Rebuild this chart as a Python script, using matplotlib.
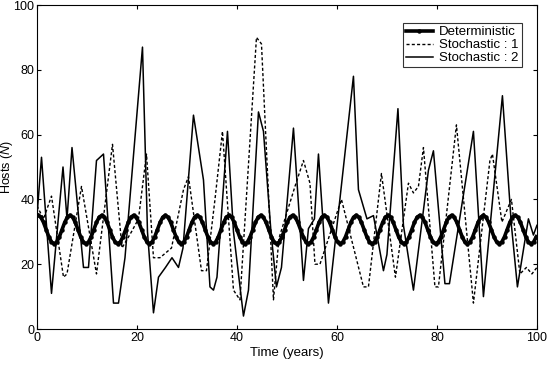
import numpy as np
import matplotlib.pyplot as plt

plt.rcParams['font.family'] = ['Liberation Sans', 'DejaVu Sans']
plt.rcParams['mathtext.fontset'] = 'custom'
plt.rcParams['mathtext.it'] = 'Liberation Sans:italic'

# deterministic model, sampled every 0.53 years starting at 0.24
det_years = np.arange(0.24, 100, 0.53)
det_hosts = [
    35.1, 34.5, 32.9, 30.7, 28.5, 26.9, 26.3, 26.9, 28.5, 30.7, 32.9, 34.5,
    35.1, 34.5, 32.9, 30.7, 28.5, 26.9, 26.3, 26.9, 28.5, 30.7, 32.9, 34.5,
    35.1, 34.5, 32.9, 30.7, 28.5, 26.9, 26.3, 26.9, 28.5, 30.7, 32.9, 34.5,
    35.1, 34.5, 32.9, 30.7, 28.5, 26.9, 26.3, 26.9, 28.5, 30.7, 32.9, 34.5,
    35.1, 34.5, 32.9, 30.7, 28.5, 26.9, 26.3, 26.9, 28.5, 30.7, 32.9, 34.5,
    35.1, 34.5, 32.9, 30.7, 28.5, 26.9, 26.3, 26.9, 28.5, 30.7, 32.9, 34.5,
    35.1, 34.5, 32.9, 30.7, 28.5, 26.9, 26.3, 26.9, 28.5, 30.7, 32.9, 34.5,
    35.1, 34.5, 32.9, 30.7, 28.5, 26.9, 26.3, 26.9, 28.5, 30.7, 32.9, 34.5,
    35.1, 34.5, 32.9, 30.7, 28.5, 26.9, 26.3, 26.9, 28.5, 30.7, 32.9, 34.5,
    35.1, 34.5, 32.9, 30.7, 28.5, 26.9, 26.3, 26.9, 28.5, 30.7, 32.9, 34.5,
    35.1, 34.5, 32.9, 30.7, 28.5, 26.9, 26.3, 26.9, 28.5, 30.7, 32.9, 34.5,
    35.1, 34.5, 32.9, 30.7, 28.5, 26.9, 26.3, 26.9, 28.5, 30.7, 32.9, 34.5,
    35.1, 34.5, 32.9, 30.7, 28.5, 26.9, 26.3, 26.9, 28.5, 30.7, 32.9, 34.5,
    35.1, 34.5, 32.9, 30.7, 28.5, 26.9, 26.3, 26.9, 28.5, 30.7, 32.9, 34.5,
    35.1, 34.5, 32.9, 30.7, 28.5, 26.9, 26.3, 26.9, 28.5, 30.7, 32.9, 34.5,
    35.1, 34.5, 32.9, 30.7, 28.5, 26.9, 26.3, 26.9, 28.5,
]

# stochastic run 1 (dashed)
s1_years = [0, 1.3, 2.9, 5.3, 6.0, 8.9, 11.9, 15.1, 17.0, 18.9, 20.3, 21.9,
            23.3, 24.6, 26.9, 29.3, 30.3, 32.9, 33.9, 35.6, 37.1, 39.3, 40.6,
            43.9, 44.9, 47.3, 48.4, 51.6, 53.3, 54.6, 55.6, 56.6, 60.9, 65.3,
            66.3, 68.9, 71.7, 74.3, 75.3, 76.3, 77.3, 79.6, 80.3, 83.9, 87.3,
            90.6, 91.1, 93.0, 94.9, 96.6, 97.9, 99.0, 100]
s1_hosts = [38, 34, 41, 16, 17, 44, 17, 57, 25, 30, 34, 54,
            22, 22, 25, 43, 47, 18, 18, 40, 61, 12, 9,
            90, 88, 9, 28, 44, 52, 45, 20, 20, 40, 13,
            13, 48, 16, 45, 42, 44, 56, 13, 13, 63, 8,
            52, 54, 33, 40, 17, 19, 17, 19]

# stochastic run 2 (solid)
s2_years = [0, 0.9, 2.9, 5.2, 6.0, 7.0, 9.3, 10.3, 11.9, 13.3, 15.3, 16.3,
            17.6, 21.1, 22.1, 23.3, 24.3, 25.7, 27.0, 28.3, 29.2, 31.3, 33.3,
            34.6, 35.3, 36.0, 38.1, 39.3, 41.3, 42.3, 44.3, 45.3, 46.8, 47.9,
            48.9, 51.3, 53.3, 54.3, 55.5, 56.3, 58.3, 63.3, 64.3, 66.0, 67.3,
            69.3, 70.0, 72.2, 73.3, 75.3, 78.3, 79.3, 81.6, 82.5, 87.3, 89.3,
            93.1, 94.9, 96.1, 98.3, 99.3, 100]
s2_hosts = [35, 53, 11, 50, 34, 56, 19, 19, 52, 54, 8, 8,
            22, 87, 30, 5, 16, 19, 22, 19, 25, 66, 46,
            13, 12, 16, 61, 30, 4, 12, 67, 61, 30, 13,
            19, 62, 15, 31, 34, 54, 8, 78, 43, 34, 35,
            18, 23, 68, 32, 12, 49, 55, 14, 14, 61, 10,
            72, 32, 13, 34, 29, 32]

fig = plt.figure(figsize=(5.49, 3.65), dpi=100)
ax = fig.add_axes([0.0674, 0.0986, 0.9106, 0.8877])

ax.plot(det_years, det_hosts, color='black', linewidth=2.6, marker='o',
        markersize=2.2, label='Deterministic')
ax.plot(s1_years, s1_hosts, color='black', linewidth=1.0, linestyle=(0, (2.2, 1.6)),
        label='Stochastic : 1')
ax.plot(s2_years, s2_hosts, color='black', linewidth=1.1, label='Stochastic : 2')

ax.set_xlim(0, 100)
ax.set_ylim(0, 100)
ax.set_xticks(range(0, 101, 20))
ax.set_yticks(range(0, 101, 20))
ax.tick_params(direction='in', length=3, labelsize=9, pad=2, top=True, right=True)
ax.set_xlabel('Time (years)', fontsize=9.5, labelpad=2)
ax.set_ylabel('Hosts ($N$)', fontsize=9)
ax.yaxis.set_label_coords(-0.044, 0.5)

leg = ax.legend(loc='upper right', bbox_to_anchor=(0.97, 0.945), fontsize=9.5,
                frameon=True, fancybox=False, edgecolor='black',
                handlelength=2.0, handletextpad=0.5, borderpad=0.25,
                labelspacing=0.05, borderaxespad=0)
leg.get_frame().set_linewidth(0.8)

fig.savefig('out.png', dpi=100)
